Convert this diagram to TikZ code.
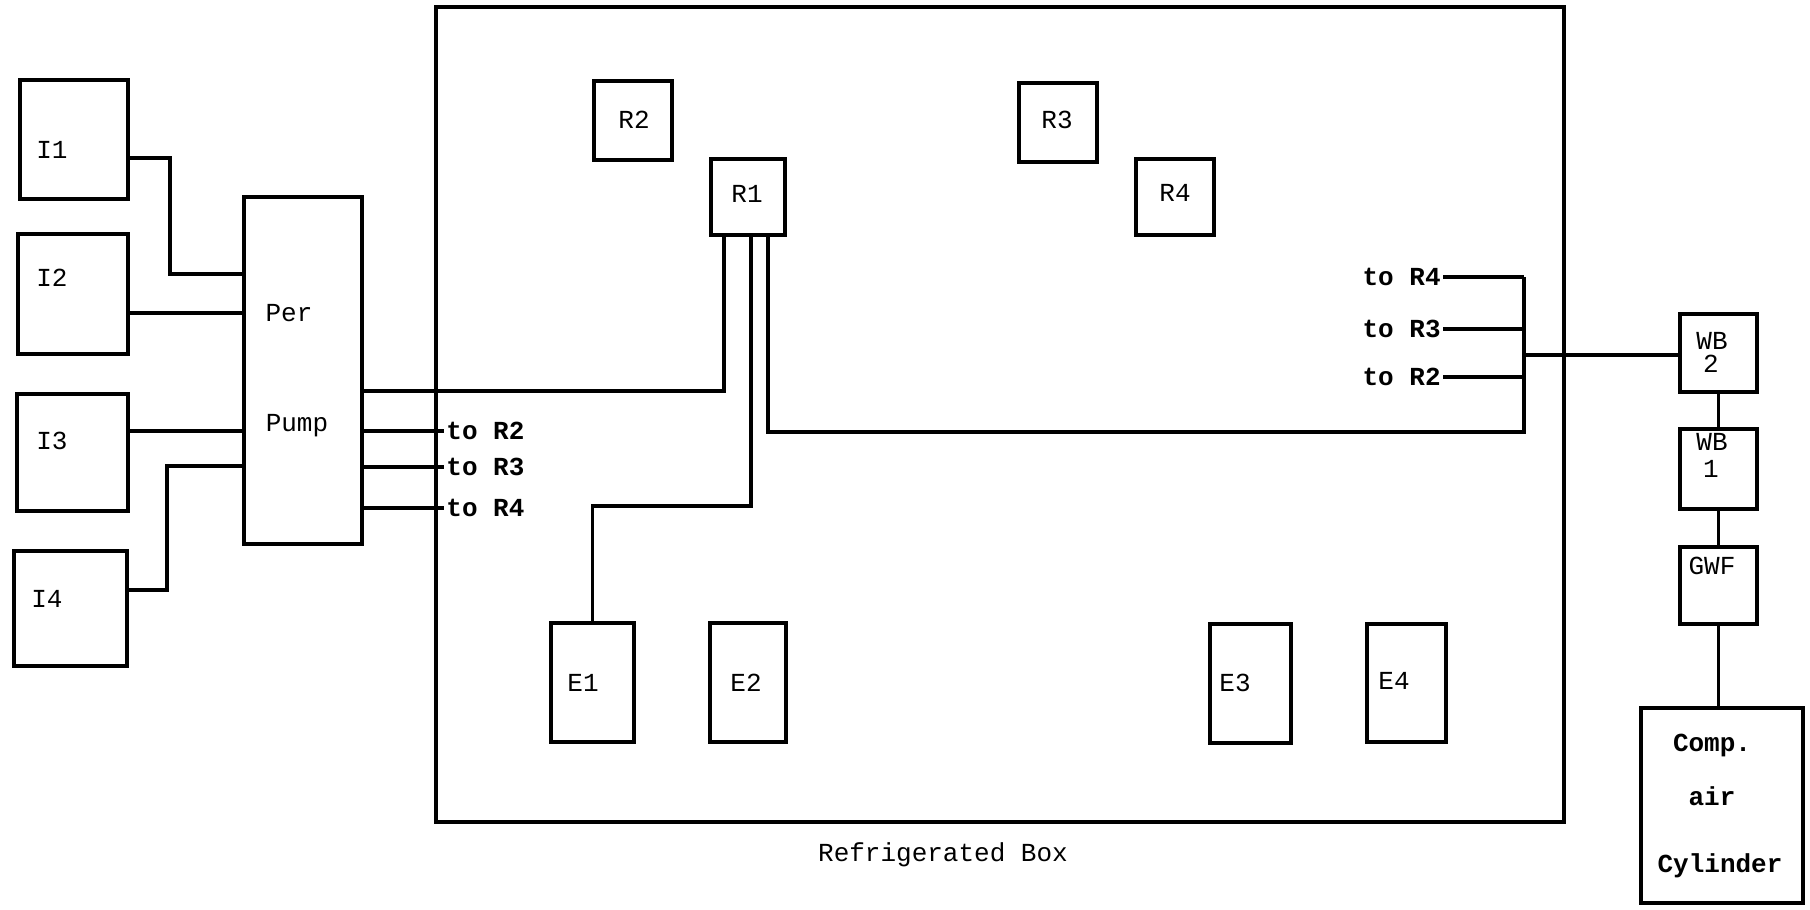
\documentclass[tikz,border=0pt]{standalone}
\usepackage{fontspec}
\setmonofont{Liberation Mono}
\begin{document}
\begin{tikzpicture}[x=0.5pt,y=-0.5pt,
  box/.style={draw,line width=1.6pt,inner sep=0pt,outer sep=0pt},
  lab/.style={font=\ttfamily\fontsize{13pt}{11pt}\selectfont,inner sep=1pt,align=center},
  blab/.style={lab,font=\ttfamily\bfseries\fontsize{13pt}{11pt}\selectfont},
  tight/.style={lab,inner sep=0pt,text height=8pt,text depth=0.5pt},
  wire/.style={line width=1.6pt}]
\useasboundingbox (0,0) rectangle (1810,910);
% boxes
\node[box,minimum width=54pt,minimum height=59.5pt] (I1) at (74,139.5) {};
\node[box,minimum width=55pt,minimum height=60pt] (I2) at (73,294) {};
\node[box,minimum width=55.5pt,minimum height=58.5pt] (I3) at (72.5,452.5) {};
\node[box,minimum width=56.5pt,minimum height=57.5pt] (I4) at (70.5,608.5) {};
\node[box,minimum width=59pt,minimum height=173.5pt] (Pump) at (303,370.5) {};
\node[box,minimum width=564pt,minimum height=407.5pt] (RB) at (1000,414.5) {};
\node[box,minimum width=39pt,minimum height=39.5pt] (R2) at (633,120.5) {};
\node[box,minimum width=37pt,minimum height=38pt] (R1) at (748,197) {};
\node[box,minimum width=39pt,minimum height=39.5pt] (R3) at (1058,122.5) {};
\node[box,minimum width=39pt,minimum height=38pt] (R4) at (1175,197) {};
\node[box,minimum width=38.5pt,minimum height=39pt] (WB2) at (1718.5,353) {};
\node[box,minimum width=38.5pt,minimum height=40pt] (WB1) at (1718.5,469) {};
\node[box,minimum width=38.5pt,minimum height=38.5pt] (GWF) at (1718.5,585.5) {};
\node[box,minimum width=81pt,minimum height=97.5pt] (Cyl) at (1722,805.5) {};
\node[box,minimum width=41.5pt,minimum height=59.5pt] (E1) at (592.5,682.5) {};
\node[box,minimum width=38pt,minimum height=59.5pt] (E2) at (748,682.5) {};
\node[box,minimum width=40.5pt,minimum height=59.5pt] (E3) at (1250.5,683.5) {};
\node[box,minimum width=39.5pt,minimum height=59pt] (E4) at (1406.5,683) {};
% labels
\node[lab] (I1t) at (52,150) {I1};
\node[lab] (I2t) at (52,278) {I2};
\node[lab] (I3t) at (52,441) {I3};
\node[lab] (I4t) at (47,599) {I4};
\node[lab] (Pert) at (289,313) {Per};
\node[lab] (Pumpt) at (297,426) {Pump};
\node[lab] (R2t) at (634,120) {R2};
\node[lab] (R1t) at (747,194) {R1};
\node[lab] (R3t) at (1057,120) {R3};
\node[lab] (R4t) at (1175,193) {R4};
\node[lab] (E1t) at (583,683) {E1};
\node[lab] (E2t) at (746,683) {E2};
\node[lab] (E3t) at (1235,683) {E3};
\node[lab] (E4t) at (1394,681) {E4};
\node[tight] (WB2a) at (1712,342) {WB};
\node[tight] (WB2b) at (1711,365) {2};
\node[tight] (WB1a) at (1712,443) {WB};
\node[tight] (WB1b) at (1711,470) {1};
\node[lab] (GWFt) at (1712,566) {GWF};
\node[blab] (Compt) at (1712,745) {Comp.};
\node[blab] (airt) at (1712,796) {air};
\node[blab] (Cylt) at (1720,866) {Cylinder};
\node[lab] (RBt) at (943,855) {Refrigerated Box};
\node[blab,anchor=west] (tR2l) at (444,431) {to R2};
\node[blab,anchor=west] (tR3l) at (444,467) {to R3};
\node[blab,anchor=west] (tR4l) at (444,508) {to R4};
\node[blab,anchor=east] (tR4r) at (1443,277) {to R4};
\node[blab,anchor=east] (tR3r) at (1443,329) {to R3};
\node[blab,anchor=east] (tR2r) at (1443,377) {to R2};
\coordinate (J) at (1524,355);
% wires
\draw[wire] (I1.east |- 0,158) -| (170,274) -- (Pump.west |- 0,274);
\draw[wire] (I2.east |- 0,313) -- (Pump.west |- 0,313);
\draw[wire] (I3.east |- 0,431) -- (Pump.west |- 0,431);
\draw[wire] (I4.east |- 0,590) -| (167,466) -- (Pump.west |- 0,466);
\draw[wire] (Pump.east |- 0,391) -| (R1.south -| 724,0);
\draw[wire] (Pump.east |- 0,431) -- (tR2l.west);
\draw[wire] (Pump.east |- 0,467) -- (tR3l.west);
\draw[wire] (Pump.east |- 0,508) -- (tR4l.west);
\draw[wire] (R1.south -| 751,0) |- (592.5,506) -- (E1.north);
\draw[wire] (R1.south -| 768,0) |- (1524,432) -- (1524,277);
\draw[wire] (tR4r.east) -- (1524,277);
\draw[wire] (tR3r.east) -- (1524,329);
\draw[wire] (tR2r.east) -- (1524,377);
\draw[wire] (J) -- (WB2.west |- J);
\draw[wire] (WB2.south) -- (WB1.north);
\draw[wire] (WB1.south) -- (GWF.north);
\draw[wire] (GWF.south) -- (GWF.south |- Cyl.north);
\end{tikzpicture}
\end{document}
